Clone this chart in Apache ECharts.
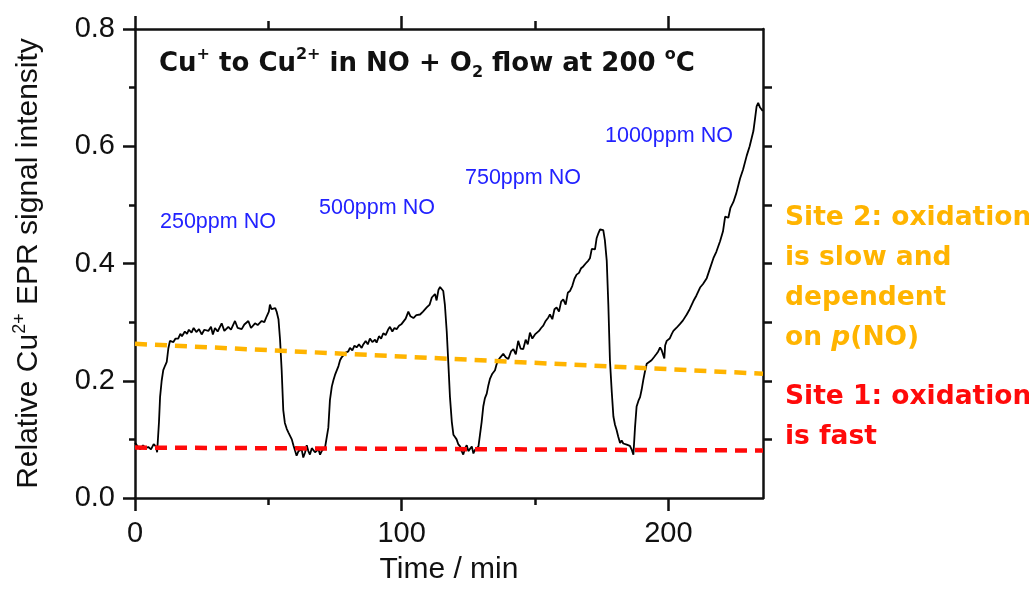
<!DOCTYPE html>
<html>
<head>
<meta charset="utf-8">
<script src="https://cdn.jsdelivr.net/npm/echarts@6/dist/echarts.min.js"></script>
<style>
  html, body { margin: 0; padding: 0; background: #fff; }
  #main { width: 1029px; height: 590px; }
</style>
</head>
<body>
<div id="main"></div>
<script>
// time (min) and relative EPR signal
var timeMin = [
  0, 1, 2, 3, 4, 5, 6, 7, 7.8, 8.3,
  9.0, 9.4, 10.0, 10.6, 11.3, 11.9, 12.5, 13.1, 14.4, 15.2, 16.2, 17.0, 17.6, 18.7, 19.5, 20.2, 21.2, 22.0, 23.0, 24.0,
  25, 26, 27.5, 28.5, 29.2, 30, 31, 32.5, 33.5, 35, 36, 37.5, 38.5, 40, 41, 42.5, 43.5, 45, 46, 47.5,
  48.5, 49.4, 50.2, 50.6, 51.2, 51.9, 52.6, 53.1, 53.8, 54.4, 55.0, 55.6, 56.2, 56.9, 57.5, 58.1, 58.8, 59.4, 60, 60.6,
  61.3, 61.9, 62.5, 63.1, 63.8, 64.4, 65, 65.6, 66.3, 66.9, 67.5, 68.1, 68.8, 69.4, 70.0, 70.6, 71.3, 71.9,
  72.5, 73.1, 73.8, 74.4, 75, 75.6, 76.3, 76.9, 77.5, 78.1, 79, 80, 80.6, 81.5, 82.3, 83.1, 84, 85, 85.6, 86.5,
  87.3, 88.1, 89, 90, 90.6, 91.5, 92.3, 93.1, 94, 95, 95.6, 96.5, 97.3, 98.1, 99, 100, 100.6, 101.5, 102.5, 103.3,
  104.4, 105.5, 106.9, 108, 109.4, 110.5, 111.3, 111.9, 112.5, 113.1, 113.8, 114.4, 115.0, 115.6, 116.2, 116.9, 117.5, 118.1, 118.8, 119.4,
  120, 120.6, 121.2, 121.9, 122.5, 123.1, 123.8, 124.4, 125, 125.6, 126.3, 126.9, 127.5, 128.1, 128.8, 129.4,
  130, 130.6, 131.2, 131.9, 132.5, 133.1, 134, 135, 135.6, 136.2, 137, 138.1, 139, 140, 141, 141.9, 142.8, 143.7, 144.6, 145.6,
  146.5, 147.3, 148.1, 149, 150, 150.6, 151.5, 152.3, 153.1, 154, 155, 155.6, 156.5, 157.3, 158.1, 159, 159.8, 160.6, 161.5, 162.3,
  163.1, 164, 164.8, 165.6, 166.5, 167.3, 168.1, 169, 170, 170.6, 171.3, 171.9, 172.5, 173.1, 173.8, 174.4, 175, 175.6, 176.2, 176.9,
  177.5, 178.1, 178.8, 179.4, 180, 180.6, 181.2, 181.9, 182.5, 183.1, 183.8, 184.4, 185, 185.6, 186.3, 186.9,
  187.5, 188.1, 188.8, 189.4, 190, 190.6, 191.2, 191.9, 192.8, 193.7, 194.6, 195.6, 196.2, 196.9, 197.5, 198.1, 198.5, 198.8, 199.4, 200.5,
  201.3, 201.9, 203, 204.4, 205.5, 206.9, 208, 209.4, 210.5, 211.9, 213, 214.4, 215.5, 216.9, 218, 219.4, 220.5, 221.3, 221.9, 222.5,
  223.3, 224.4, 225.5, 226.9, 228, 229.4, 230.5, 231.3, 231.9, 232.6, 233.1, 233.7, 234.4, 235, 235.4
];
var eprSignal = [
  0.094, 0.088, 0.083, 0.090, 0.085, 0.087, 0.083, 0.092, 0.088, 0.078,
  0.130, 0.172, 0.200, 0.218, 0.226, 0.232, 0.255, 0.268, 0.266, 0.272, 0.272, 0.280, 0.276, 0.284, 0.280, 0.287, 0.282, 0.290, 0.283, 0.288,
  0.279, 0.287, 0.285, 0.292, 0.279, 0.290, 0.284, 0.298, 0.285, 0.292, 0.287, 0.302, 0.290, 0.288, 0.296, 0.302, 0.290, 0.298, 0.295, 0.302,
  0.300, 0.310, 0.318, 0.330, 0.322, 0.321, 0.324, 0.318, 0.305, 0.270, 0.218, 0.150, 0.128, 0.118, 0.112, 0.113, 0.100, 0.090, 0.088, 0.072,
  0.080, 0.077, 0.083, 0.069, 0.078, 0.090, 0.080, 0.074, 0.085, 0.082, 0.078, 0.077, 0.083, 0.074, 0.080, 0.080, 0.087, 0.085,
  0.120, 0.167, 0.190, 0.201, 0.210, 0.212, 0.225, 0.235, 0.240, 0.243, 0.248, 0.250, 0.256, 0.252, 0.260, 0.257, 0.262, 0.256, 0.262, 0.268,
  0.262, 0.272, 0.266, 0.270, 0.265, 0.276, 0.272, 0.281, 0.278, 0.288, 0.292, 0.284, 0.290, 0.288, 0.294, 0.297, 0.298, 0.306, 0.318, 0.310,
  0.307, 0.312, 0.313, 0.318, 0.325, 0.330, 0.342, 0.339, 0.348, 0.337, 0.355, 0.360, 0.360, 0.353, 0.330, 0.284, 0.230, 0.173, 0.130, 0.108,
  0.104, 0.100, 0.092, 0.088, 0.080, 0.074, 0.085, 0.090, 0.080, 0.082, 0.088, 0.076, 0.082, 0.085, 0.088, 0.088,
  0.130, 0.156, 0.170, 0.178, 0.192, 0.203, 0.212, 0.218, 0.228, 0.235, 0.240, 0.246, 0.240, 0.237, 0.250, 0.254, 0.245, 0.268, 0.255, 0.254,
  0.270, 0.262, 0.282, 0.272, 0.279, 0.277, 0.285, 0.290, 0.294, 0.302, 0.308, 0.313, 0.305, 0.322, 0.325, 0.318, 0.335, 0.339, 0.330, 0.350,
  0.353, 0.362, 0.374, 0.381, 0.384, 0.392, 0.395, 0.400, 0.405, 0.409, 0.425, 0.426, 0.424, 0.443, 0.452, 0.458, 0.461, 0.457, 0.440, 0.405,
  0.330, 0.235, 0.180, 0.139, 0.125, 0.116, 0.105, 0.094, 0.098, 0.093, 0.095, 0.091, 0.094, 0.089, 0.082, 0.074,
  0.120, 0.156, 0.166, 0.172, 0.185, 0.201, 0.215, 0.229, 0.232, 0.235, 0.240, 0.246, 0.250, 0.257, 0.252, 0.251, 0.238, 0.260, 0.268, 0.272,
  0.280, 0.285, 0.290, 0.297, 0.303, 0.313, 0.322, 0.336, 0.345, 0.359, 0.365, 0.375, 0.390, 0.409, 0.420, 0.438, 0.455, 0.480, 0.483, 0.478,
  0.495, 0.505, 0.520, 0.545, 0.560, 0.584, 0.600, 0.615, 0.626, 0.650, 0.668, 0.674, 0.666, 0.668, 0.660
];

// the two dashed guide lines (start, end)
var site2Line = [[0, 0.263], [235.5, 0.212]];
var site1Line = [[0, 0.086], [235.5, 0.081]];

// axis ticks
var xMax = 235.5;
var xMajorTicks = [0, 100, 200];
var xMinorTicks = [50, 150];
var yTicks = [0, 0.2, 0.4, 0.6, 0.8];
var yRightTicks = [0.1, 0.2, 0.3, 0.4, 0.5, 0.6, 0.7];

var curve = [];
for (var i = 0; i < timeMin.length; i++) {
  curve.push([timeMin[i], eprSignal[i]]);
}

var ink = '#111';
var sans = "'Liberation Sans', Arial, sans-serif";
var boldSans = "'DejaVu Sans', sans-serif";
var axLine = { show: true, onZero: false, lineStyle: { color: ink, width: 2.5 } };

function tickAxis(pos, vals, len, withLine) {
  return {
    type: 'value', position: pos, min: 0, max: xMax,
    axisLine: withLine ? axLine : { show: false, onZero: false },
    axisTick: { show: true, customValues: vals, length: len, lineStyle: { color: ink, width: 2.5 } },
    axisLabel: { show: false },
    splitLine: { show: false }
  };
}

var blue = { fontFamily: sans, fontSize: 21.5, color: '#2222ff', fontWeight: 'normal', lineHeight: 26 };
var orangeC = '#ffb400';
var redC = '#ff0a0a';

var myChart = echarts.init(document.getElementById('main'));
var option = {
  animation: false,
  backgroundColor: '#fff',
  grid: { left: 135, right: 266, top: 29, bottom: 88 },
  title: [
    {
      left: 159, top: 47, padding: 0,
      text: '{m|Cu}{sp|+}{m| to Cu}{sp|2+}{m| in NO + O}{sb|2}{m| flow at 200 }{sp|o}{m|C}',
      textStyle: {
        rich: {
          m: { fontFamily: boldSans, fontWeight: 'bold', fontSize: 26, color: ink, lineHeight: 34, verticalAlign: 'middle' },
          sp: { fontFamily: boldSans, fontWeight: 'bold', fontSize: 16, color: ink, lineHeight: 16, verticalAlign: 'top' },
          sb: { fontFamily: boldSans, fontWeight: 'bold', fontSize: 16, color: ink, lineHeight: 16, verticalAlign: 'bottom' }
        }
      }
    },
    { left: 160, top: 209, padding: 0, text: '250ppm NO', textStyle: blue },
    { left: 319, top: 195, padding: 0, text: '500ppm NO', textStyle: blue },
    { left: 465, top: 165, padding: 0, text: '750ppm NO', textStyle: blue },
    { left: 605, top: 123, padding: 0, text: '1000ppm NO', textStyle: blue },
    {
      left: 785, top: 198, padding: 0,
      text: 'Site 2: oxidation\nis slow and\ndependent\non {i|p}(NO)',
      textStyle: {
        fontFamily: boldSans, fontWeight: 'bold', fontSize: 26.5, color: orangeC, lineHeight: 40,
        rich: { i: { fontFamily: boldSans, fontWeight: 'bold', fontStyle: 'italic', fontSize: 26.5, color: orangeC, lineHeight: 40 } }
      }
    },
    {
      left: 785, top: 377, padding: 0,
      text: 'Site 1: oxidation\nis fast',
      textStyle: { fontFamily: boldSans, fontWeight: 'bold', fontSize: 26.5, color: redC, lineHeight: 40 }
    }
  ],
  xAxis: [
    {
      type: 'value', position: 'bottom', min: 0, max: xMax,
      axisLine: axLine,
      axisTick: { show: true, customValues: xMajorTicks, length: 13, lineStyle: { color: ink, width: 2.5 } },
      axisLabel: { customValues: xMajorTicks, fontFamily: sans, fontSize: 29, color: ink, margin: 21 },
      splitLine: { show: false },
      name: 'Time / min', nameLocation: 'middle', nameGap: 57,
      nameTextStyle: { fontFamily: sans, fontSize: 30, color: ink }
    },
    tickAxis('bottom', xMinorTicks, 7, false),
    tickAxis('top', xMajorTicks, 13, true),
    tickAxis('top', xMinorTicks, 8, false)
  ],
  yAxis: [
    {
      type: 'value', position: 'left', min: 0, max: 0.8, interval: 0.2,
      axisLine: axLine,
      axisTick: { show: true, length: 12, lineStyle: { color: ink, width: 2.5 } },
      minorTick: { show: true, splitNumber: 2, length: 6, lineStyle: { color: ink, width: 2.5 } },
      axisLabel: {
        customValues: yTicks, fontFamily: sans, fontSize: 29, color: ink, margin: 20,
        formatter: function (v) { return v.toFixed(1); }
      },
      splitLine: { show: false },
      minorSplitLine: { show: false },
      name: '{a|Relative Cu}{s|2+}{a| EPR signal intensity}',
      nameLocation: 'middle', nameGap: 88,
      nameTextStyle: {
        rich: {
          a: { fontFamily: sans, fontSize: 30, color: ink, lineHeight: 36, verticalAlign: 'middle' },
          s: { fontFamily: sans, fontSize: 18, color: ink, lineHeight: 18, verticalAlign: 'top' }
        }
      }
    },
    {
      type: 'value', position: 'right', min: 0, max: 0.8,
      axisLine: axLine,
      axisTick: { show: true, customValues: yRightTicks, length: 9, lineStyle: { color: ink, width: 2.5 } },
      axisLabel: { show: false },
      splitLine: { show: false }
    }
  ],
  series: [
    {
      name: 'EPR', type: 'line', data: curve, symbol: 'none', z: 3,
      lineStyle: { color: '#000', width: 1.8 }
    },
    {
      name: 'site 2', type: 'line', data: site2Line, symbol: 'none', z: 4,
      lineStyle: { color: orangeC, width: 4.5, type: [12, 8] }
    },
    {
      name: 'site 1', type: 'line', data: site1Line, symbol: 'none', z: 4,
      lineStyle: { color: redC, width: 4.5, type: [12, 8] }
    }
  ]
};
myChart.setOption(option);
</script>
</body>
</html>
